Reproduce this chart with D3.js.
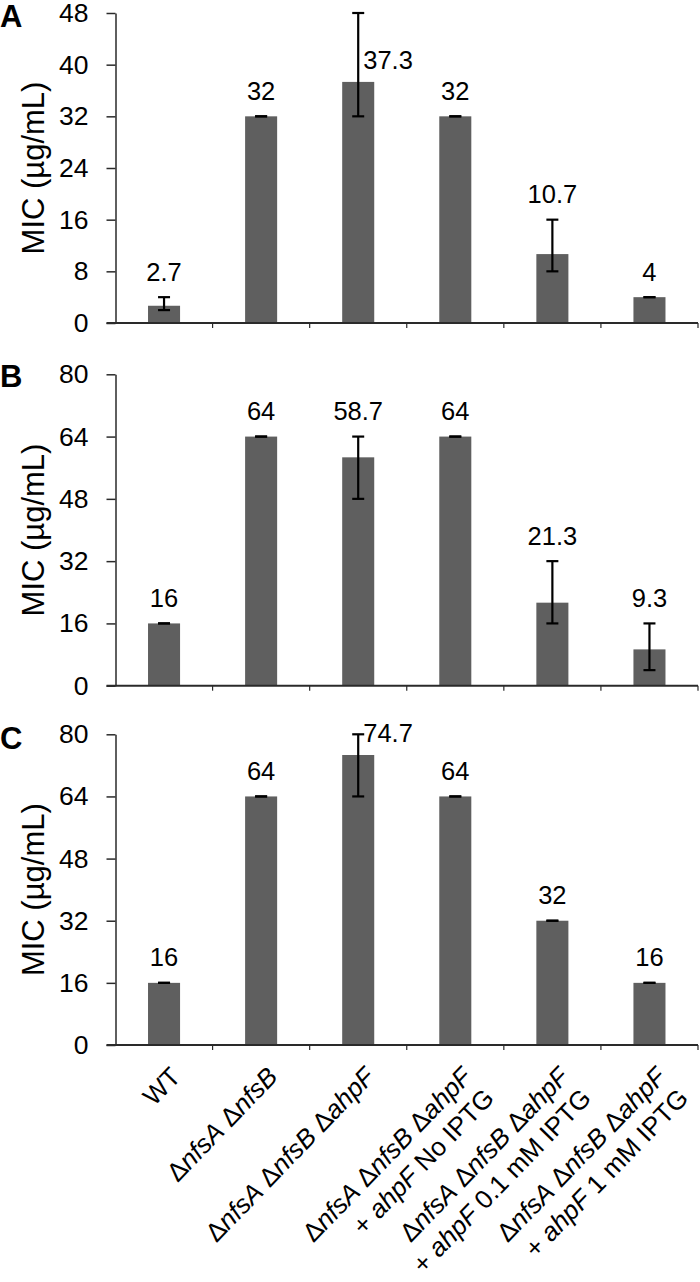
<!DOCTYPE html>
<html>
<head>
<meta charset="utf-8">
<script src="https://cdn.jsdelivr.net/npm/d3@7"></script>
<style>
  html, body { margin: 0; padding: 0; background: #fff; }
  text { font-family: "Liberation Sans", Arial, sans-serif; fill: #000; }
</style>
</head>
<body>
<svg id="chart" width="700" height="1282"></svg>
<script>
// ---- data ----
const categories = [
  ["WT"],
  ["Δ<i>nfsA</i> Δ<i>nfsB</i>"],
  ["Δ<i>nfsA</i> Δ<i>nfsB</i> Δ<i>ahpF</i>"],
  ["Δ<i>nfsA</i> Δ<i>nfsB</i> Δ<i>ahpF</i>", "+ <i>ahpF</i> No IPTG"],
  ["Δ<i>nfsA</i> Δ<i>nfsB</i> Δ<i>ahpF</i>", "+ <i>ahpF</i> 0.1 mM IPTG"],
  ["Δ<i>nfsA</i> Δ<i>nfsB</i> Δ<i>ahpF</i>", "+ <i>ahpF</i> 1 mM IPTG"]
];
const panelLetters = ["A", "B", "C"];
const meanA = [2.67, 32, 37.33, 32, 10.67, 4];
const lowA  = [2, 32, 32, 32, 8, 4];
const highA = [4, 32, 48, 32, 16, 4];
const meanB = [16, 64, 58.67, 64, 21.33, 9.33];
const lowB  = [16, 64, 48, 64, 16, 4];
const highB = [16, 64, 64, 64, 32, 16];
const meanC = [16, 64, 74.67, 64, 32, 16];
const lowC  = [16, 64, 64, 64, 32, 16];
const highC = [16, 64, 80, 64, 32, 16];
const ticksA = [0, 8, 16, 24, 32, 40, 48];
const ticksB = [0, 16, 32, 48, 64, 80];
const ticksC = [0, 16, 32, 48, 64, 80];
const yTitle = "MIC (µg/mL)";

// ---- layout ----
const svg = d3.select("#chart");
const plotLeft = 115.5, plotRight = 698;
const layout = [
  {top: 13, bottom: 323, letterY: 27},
  {top: 374.3, bottom: 685.7, letterY: 387},
  {top: 734.3, bottom: 1045, letterY: 749}
];
const panelData = [
  {mean: meanA, low: lowA, high: highA, ticks: ticksA},
  {mean: meanB, low: lowB, high: highB, ticks: ticksB},
  {mean: meanC, low: lowC, high: highC, ticks: ticksC}
];
const barColor = "#5f5f5f";
const axisColor = "#2a2a2a";

const x = d3.scaleBand().domain(d3.range(categories.length)).range([plotLeft, plotRight]).padding(0);
const barW = x.bandwidth() * 0.33;
const fmt = v => { const r = Math.round(v * 10) / 10; return Number.isInteger(r) ? String(r) : r.toFixed(1); };

panelData.forEach((pd, pi) => {
  const L = layout[pi];
  const ymax = pd.ticks[pd.ticks.length - 1];
  const y = d3.scaleLinear().domain([0, ymax]).range([L.bottom, L.top]);
  const g = svg.append("g");

  // bars
  g.selectAll("rect.bar").data(pd.mean).join("rect")
    .attr("x", (d, i) => x(i) + (x.bandwidth() - barW) / 2)
    .attr("y", d => y(d))
    .attr("width", barW)
    .attr("height", d => y(0) - y(d))
    .attr("fill", barColor);

  // error bars
  const capW = 12;
  pd.mean.forEach((m, i) => {
    const cx = x(i) + x.bandwidth() / 2;
    const eg = g.append("g").attr("stroke", "#000").attr("stroke-width", 2.2);
    if (pd.high[i] !== pd.low[i]) {
      eg.append("line").attr("x1", cx).attr("x2", cx).attr("y1", y(pd.low[i])).attr("y2", y(pd.high[i]));
    }
    eg.append("line").attr("x1", cx - capW / 2).attr("x2", cx + capW / 2).attr("y1", y(pd.high[i])).attr("y2", y(pd.high[i]));
    eg.append("line").attr("x1", cx - capW / 2).attr("x2", cx + capW / 2).attr("y1", y(pd.low[i])).attr("y2", y(pd.low[i]));

    // value label
    const t = g.append("text").attr("font-size", 25.5).text(fmt(m));
    if (pd.high[i] >= ymax) {
      t.attr("x", cx + 5).attr("y", y(m) - 13).attr("text-anchor", "start");
    } else {
      t.attr("x", cx).attr("y", y(pd.high[i]) - 16.5).attr("text-anchor", "middle");
    }
  });

  // y axis
  const yAxis = d3.axisLeft(y).tickValues(pd.ticks).tickSize(9).tickPadding(18).tickSizeOuter(0);
  const ya = g.append("g").attr("transform", `translate(${plotLeft},0)`).call(yAxis);
  ya.select(".domain").attr("stroke", axisColor).attr("stroke-width", 1.5);
  ya.selectAll(".tick line").attr("stroke", axisColor).attr("stroke-width", 1.5);
  ya.selectAll(".tick text").attr("font-size", 26.5).attr("font-family", "Liberation Sans, Arial, sans-serif").attr("fill", "#000");

  // x axis (ticks at band boundaries)
  const boundaries = d3.range(categories.length + 1).map(i => plotLeft + i * x.step());
  g.append("line").attr("x1", plotLeft - 9).attr("x2", plotRight).attr("y1", y(0)).attr("y2", y(0))
    .attr("stroke", axisColor).attr("stroke-width", 2);
  g.selectAll("line.xt").data(boundaries.slice(1)).join("line")
    .attr("x1", d => d).attr("x2", d => d).attr("y1", y(0)).attr("y2", y(0) + 5)
    .attr("stroke", axisColor).attr("stroke-width", 1.2);

  // y title
  g.append("text").attr("transform", `translate(44,${(L.top + L.bottom) / 2}) rotate(-90)`)
    .attr("text-anchor", "middle").attr("font-size", 31).text(yTitle);

  // panel letter
  g.append("text").attr("x", 0).attr("y", L.letterY).attr("font-size", 31).attr("font-weight", "bold")
    .text(panelLetters[pi]);

  // category labels on the last panel
  if (pi === panelData.length - 1) {
    categories.forEach((lines, i) => {
      const cx = x(i) + x.bandwidth() / 2;
      const lg = g.append("g").attr("transform", `translate(${cx + 18},${y(0) + 33}) rotate(-46)`);
      lines.forEach((line, li) => {
        const t = lg.append("text").attr("x", 0).attr("y", li * 31).attr("text-anchor", "end").attr("font-size", 26);
        line.split(/(<i>.*?<\/i>)/).filter(s => s.length).forEach(seg => {
          const it = seg.startsWith("<i>");
          t.append("tspan").attr("font-style", it ? "italic" : "normal").text(it ? seg.slice(3, -4) : seg);
        });
      });
    });
  }
});
</script>
</body>
</html>
